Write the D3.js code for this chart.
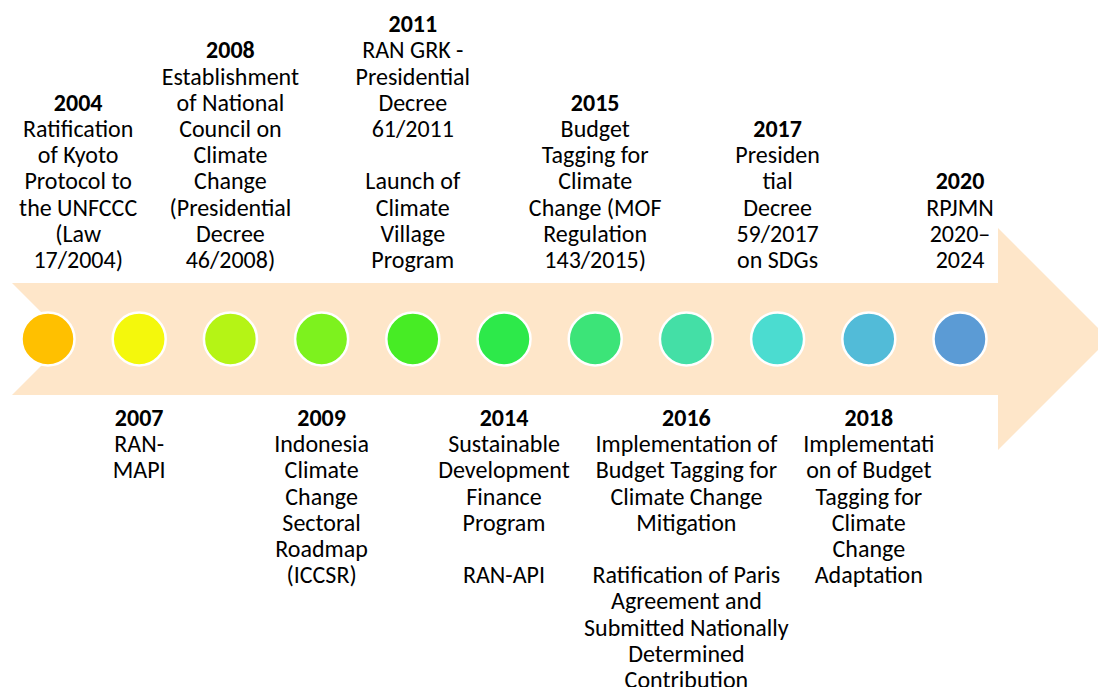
<!DOCTYPE html>
<html>
<head>
<meta charset="utf-8">
<script src="https://cdn.jsdelivr.net/npm/d3@7"></script>
<style>
    body { margin: 0; background: #fff; }
    #timeline { width: 1098px; height: 687px; }
    .label-year { font-weight: 700; }
    text { font-family: Carlito, Calibri, Lato, sans-serif; fill: #000; }
</style>
</head>
<body>
<div id="timeline"></div>
<script>
// milestones, in order along the arrow
const years = ["2004", "2007", "2008", "2009", "2011", "2014", "2015", "2016", "2017", "2018", "2020"];
const sides = ["top", "bottom", "top", "bottom", "top", "bottom", "top", "bottom", "top", "bottom", "top"];
const descriptions = [
    ["Ratification", "of Kyoto", "Protocol to", "the UNFCCC", "(Law", "17/2004)"],
    ["RAN-", "MAPI"],
    ["Establishment", "of National", "Council on", "Climate", "Change", "(Presidential", "Decree", "46/2008)"],
    ["Indonesia", "Climate", "Change", "Sectoral", "Roadmap", "(ICCSR)"],
    ["RAN GRK -", "Presidential", "Decree", "61/2011", "", "Launch of", "Climate", "Village", "Program"],
    ["Sustainable", "Development", "Finance", "Program", "", "RAN-API"],
    ["Budget", "Tagging for", "Climate", "Change (MOF", "Regulation", "143/2015)"],
    ["Implementation of", "Budget Tagging for", "Climate Change", "Mitigation", "", "Ratification of Paris", "Agreement and", "Submitted Nationally", "Determined", "Contribution"],
    ["Presiden", "tial", "Decree", "59/2017", "on SDGs"],
    ["Implementati", "on of Budget", "Tagging for", "Climate", "Change", "Adaptation"],
    ["RPJMN", "2020\u2013", "2024"]
];
const dotColors = ["#FFC000", "#F4F80C", "#B5F415", "#7DF21E", "#47EC25", "#2DE94A", "#3CE478", "#44DFA6", "#4BDCD0", "#52BBD8", "#5B9BD5"];

class Timeline {
    constructor(parentElement) {
        this.parentElement = parentElement;
        this.initVis();
    }

    initVis() {
        let vis = this;

        vis.width = 1098;
        vis.height = 687;
        vis.axisY = 339;
        vis.bodyHalf = 56;
        vis.headHalf = 111;
        vis.arrow = { left: 12, notch: 56, headX: 998 };
        vis.radius = 26.5;
        vis.fontSize = 24;
        vis.lineHeight = 26.2;
        vis.textMargin = 19;

        vis.svg = d3.select("#" + vis.parentElement)
            .append("svg")
            .attr("width", vis.width)
            .attr("height", vis.height);

        vis.x = d3.scalePoint()
            .domain(years)
            .range([48, 960]);

        vis.color = d3.scaleOrdinal()
            .domain(years)
            .range(dotColors);

        vis.wrangleData();
    }

    wrangleData() {
        let vis = this;

        vis.displayData = years.map((year, i) => ({
            year: year,
            side: sides[i],
            lines: descriptions[i]
        }));

        vis.updateVis();
    }

    updateVis() {
        let vis = this;
        let a = vis.arrow;
        let top = vis.axisY - vis.bodyHalf;
        let bottom = vis.axisY + vis.bodyHalf;

        // the big peach arrow
        let pts = [
            [a.left, top], [a.headX, top], [a.headX, vis.axisY - vis.headHalf],
            [a.headX + vis.headHalf, vis.axisY], [a.headX, vis.axisY + vis.headHalf],
            [a.headX, bottom], [a.left, bottom], [a.left + a.notch, vis.axisY]
        ];
        vis.svg.append("path")
            .attr("d", d3.line()(pts) + "Z")
            .attr("fill", "#FEE6C9");

        vis.svg.selectAll("circle.dot")
            .data(vis.displayData)
            .enter()
            .append("circle")
            .attr("class", "dot")
            .attr("cx", d => vis.x(d.year))
            .attr("cy", vis.axisY)
            .attr("r", vis.radius)
            .attr("fill", d => vis.color(d.year))
            .attr("stroke", "#fff")
            .attr("stroke-width", 2.5);

        let blocks = vis.svg.selectAll("text.block")
            .data(vis.displayData)
            .enter()
            .append("text")
            .attr("class", "block")
            .attr("text-anchor", "middle")
            .style("font-size", vis.fontSize + "px");

        blocks.each(function(d) {
            let el = d3.select(this);
            let rows = [d.year].concat(d.lines);
            // top blocks sit on the arrow, bottom blocks hang under it
            let y0 = d.side === "top"
                ? top - 15 - (rows.length - 1) * vis.lineHeight
                : bottom + 31;
            rows.forEach((r, k) => {
                el.append("tspan")
                    .attr("class", k === 0 ? "label-year" : null)
                    .attr("x", vis.x(d.year))
                    .attr("y", y0 + k * vis.lineHeight)
                    .text(r === "" ? "\u00a0" : r);
            });
        });

        // keep blocks inside the page
        blocks.each(function(d) {
            let el = d3.select(this);
            let w = this.getBBox().width;
            let cx = Math.max(vis.x(d.year), vis.textMargin + w / 2);
            el.selectAll("tspan").attr("x", cx);
        });
    }
}

new Timeline("timeline");
</script>
</body>
</html>
